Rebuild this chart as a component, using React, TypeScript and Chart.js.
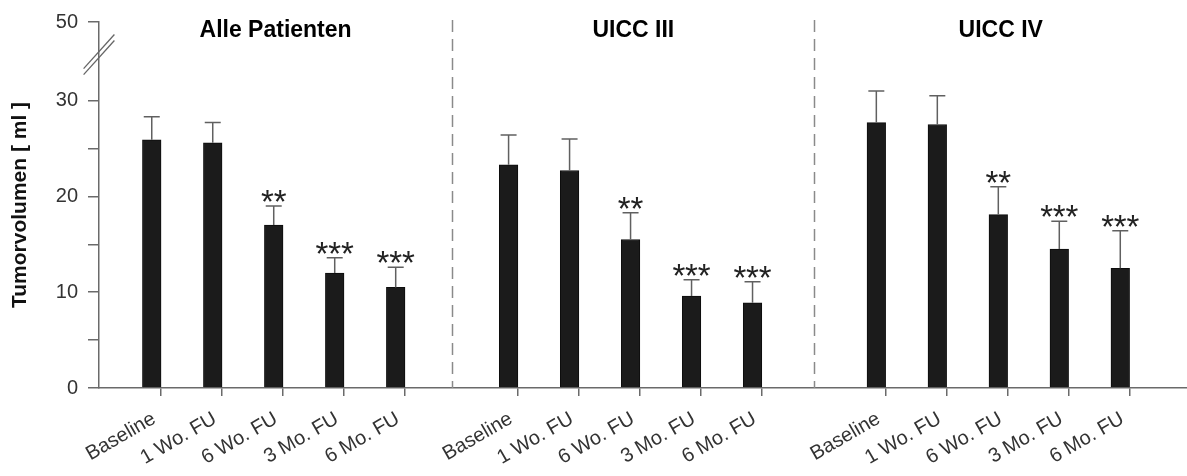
import { useEffect, useRef } from 'react';
import { Chart, registerables } from 'chart.js';

Chart.register(...registerables);

// ---- data ----
const CATEGORIES = ['Baseline', '1 Wo. FU', '6 Wo. FU', '3 Mo. FU', '6 Mo. FU'];
const GROUPS = ['Alle Patienten', 'UICC III', 'UICC IV'];
const MEAN_ALL = [25.9, 25.6, 17.0, 12.0, 10.5];
const UPPER_ALL = [28.3, 27.7, 19.0, 13.6, 12.6];
const MEAN_III = [23.3, 22.7, 15.5, 9.6, 8.9];
const UPPER_III = [26.4, 26.0, 18.3, 11.3, 11.1];
const MEAN_IV = [27.7, 27.5, 18.1, 14.5, 12.5];
const UPPER_IV = [31.0, 30.5, 21.0, 17.4, 16.4];
const SIGNIF = ['', '', '**', '***', '***'];
const Y_MAJOR = [0, 10, 20, 30];
const Y_MINOR = [5, 15, 25];
const Y_TOP_LABEL = '50';
const Y_TITLE = 'Tumorvolumen [ ml ]';

// ---- layout (axis units, not data) ----
const Y_TOP_POS = 38.2; // where the broken-axis "50" sits
const Y_BREAK_POS = 34.8;
const GROUP_START = [0.865, 6.716, 12.746];
const X_MAX = 17.84;
const HALF_BAR = 0.153;
const FONT = '"Liberation Sans", Arial, Helvetica, sans-serif';

export default function App() {
  const ref = useRef<HTMLCanvasElement>(null);

  useEffect(() => {
    const means = [MEAN_ALL, MEAN_III, MEAN_IV];
    const uppers = [UPPER_ALL, UPPER_III, UPPER_IV];
    const xs: number[] = [];
    const ys: number[] = [];
    const ups: number[] = [];
    const sig: string[] = [];
    GROUPS.forEach((_, g) => {
      CATEGORIES.forEach((_, i) => {
        xs.push(GROUP_START[g] + i);
        ys.push(means[g][i]);
        ups.push(uppers[g][i]);
        sig.push(SIGNIF[i]);
      });
    });
    const points = xs.map((x, k) => ({ x, y: ys[k] }));
    const tickPos = xs.map((x) => x + HALF_BAR);
    const yTicks = [...Y_MAJOR, ...Y_MINOR, Y_TOP_POS].sort((a, b) => a - b);

    const decor = {
      id: 'decor',
      beforeDatasetsDraw(chart: any) {
        const { ctx, chartArea, scales } = chart;
        const xs2 = scales.x;
        ctx.save();
        ctx.strokeStyle = '#8a8a8a';
        ctx.lineWidth = 1.5;
        ctx.setLineDash([12, 7]);
        for (let g = 0; g < GROUPS.length - 1; g++) {
          const v = (GROUP_START[g] + CATEGORIES.length - 1 + GROUP_START[g + 1]) / 2;
          const px = Math.round(xs2.getPixelForValue(v)) + 0.5;
          ctx.beginPath();
          ctx.moveTo(px, chartArea.top - 2);
          ctx.lineTo(px, chartArea.bottom);
          ctx.stroke();
        }
        ctx.restore();
      },
      afterDatasetsDraw(chart: any) {
        const { ctx, chartArea, scales } = chart;
        const xS = scales.x;
        const yS = scales.y;
        const meta = chart.getDatasetMeta(0);
        ctx.save();
        // error bars
        ctx.strokeStyle = '#606060';
        ctx.lineWidth = 1.5;
        meta.data.forEach((bar: any, k: number) => {
          const x = bar.x;
          const yTop = yS.getPixelForValue(ys[k]);
          const yErr = yS.getPixelForValue(ups[k]);
          ctx.beginPath();
          ctx.moveTo(x, yTop);
          ctx.lineTo(x, yErr);
          ctx.moveTo(x - 8, yErr);
          ctx.lineTo(x + 8, yErr);
          ctx.stroke();
          // significance stars
          const s = sig[k];
          if (s) {
            ctx.fillStyle = '#222';
            ctx.font = `33px ${FONT}`;
            ctx.textAlign = 'center';
            ctx.textBaseline = 'alphabetic';
            const m = ctx.measureText('*');
            const base = yErr - 4 - m.actualBoundingBoxDescent;
            const step = 12.7;
            const n = s.length;
            for (let j = 0; j < n; j++) {
              ctx.fillText('*', x + (j - (n - 1) / 2) * step, base);
            }
          }
        });
        // group titles
        const bounds = [chartArea.left];
        for (let g = 0; g < GROUPS.length - 1; g++) {
          const v = (GROUP_START[g] + CATEGORIES.length - 1 + GROUP_START[g + 1]) / 2;
          bounds.push(xS.getPixelForValue(v));
        }
        bounds.push(chartArea.right);
        ctx.fillStyle = '#000';
        ctx.font = `bold 23px ${FONT}`;
        ctx.textAlign = 'center';
        ctx.textBaseline = 'alphabetic';
        GROUPS.forEach((t, g) => {
          ctx.fillText(t, (bounds[g] + bounds[g + 1]) / 2, 36.5);
        });
        // axis break marks
        const by = yS.getPixelForValue(Y_BREAK_POS);
        const bx = chartArea.left;
        const ang = (48 * Math.PI) / 180;
        const dx = Math.cos(ang) * 23;
        const dy = Math.sin(ang) * 23;
        ctx.strokeStyle = '#666';
        ctx.lineWidth = 1.3;
        [-3, 3].forEach((o) => {
          ctx.beginPath();
          ctx.moveTo(bx - dx, by + dy + o);
          ctx.lineTo(bx + dx, by - dy + o);
          ctx.stroke();
        });
        ctx.restore();
      },
    };

    const chart = new Chart(ref.current as HTMLCanvasElement, {
      type: 'bar',
      data: {
        datasets: [
          {
            data: points as any,
            backgroundColor: '#1b1b1b',
            borderColor: '#0d0d0d',
            borderWidth: 1,
            barThickness: 18.6,
          },
        ],
      },
      options: {
        animation: false,
        responsive: false,
        maintainAspectRatio: false,
        layout: { padding: { top: 20, right: 0, left: 0, bottom: 0 } },
        plugins: { legend: { display: false }, tooltip: { enabled: false } },
        scales: {
          x: {
            type: 'linear',
            min: 0,
            max: X_MAX,
            offset: false,
            afterBuildTicks: (s: any) => {
              s.ticks = tickPos.map((v) => ({ value: v }));
            },
            afterFit: (s: any) => {
              s.height = 88;
            },
            grid: {
              drawOnChartArea: false,
              drawTicks: true,
              tickLength: 8,
              color: '#6a6a6a',
              lineWidth: 1.5,
              offset: false,
            },
            border: { color: '#6a6a6a', width: 1.5 },
            ticks: {
              autoSkip: false,
              minRotation: 30,
              maxRotation: 30,
              padding: 11,
              labelOffset: -7,
              color: '#333',
              font: { family: FONT, size: 20 },
              callback: (_v: any, i: number) => CATEGORIES[i % CATEGORIES.length],
            },
          },
          y: {
            min: 0,
            max: Y_TOP_POS,
            afterBuildTicks: (s: any) => {
              s.ticks = yTicks.map((v) => ({ value: v }));
            },
            afterFit: (s: any) => {
              s.width = 99;
            },
            grid: {
              drawOnChartArea: false,
              drawTicks: true,
              tickLength: 11,
              color: '#6a6a6a',
              lineWidth: 1.5,
            },
            border: { color: '#6a6a6a', width: 1.5 },
            ticks: {
              padding: 10,
              color: '#333',
              font: { family: FONT, size: 20 },
              callback: (v: any) =>
                Y_MAJOR.includes(v) ? String(v) : v === Y_TOP_POS ? Y_TOP_LABEL : '',
            },
            title: {
              display: true,
              text: Y_TITLE,
              color: '#111',
              font: { family: FONT, size: 21, weight: 'bold' },
              padding: { top: 8, bottom: 0 },
            },
          },
        },
      } as any,
      plugins: [decor],
    });
    return () => chart.destroy();
  }, []);

  return (
    <div style={{ position: 'absolute', left: 0, top: 0, width: 1187, height: 476, background: '#fff' }}>
      <canvas ref={ref} width={1187} height={476} style={{ display: 'block' }} />
    </div>
  );
}
